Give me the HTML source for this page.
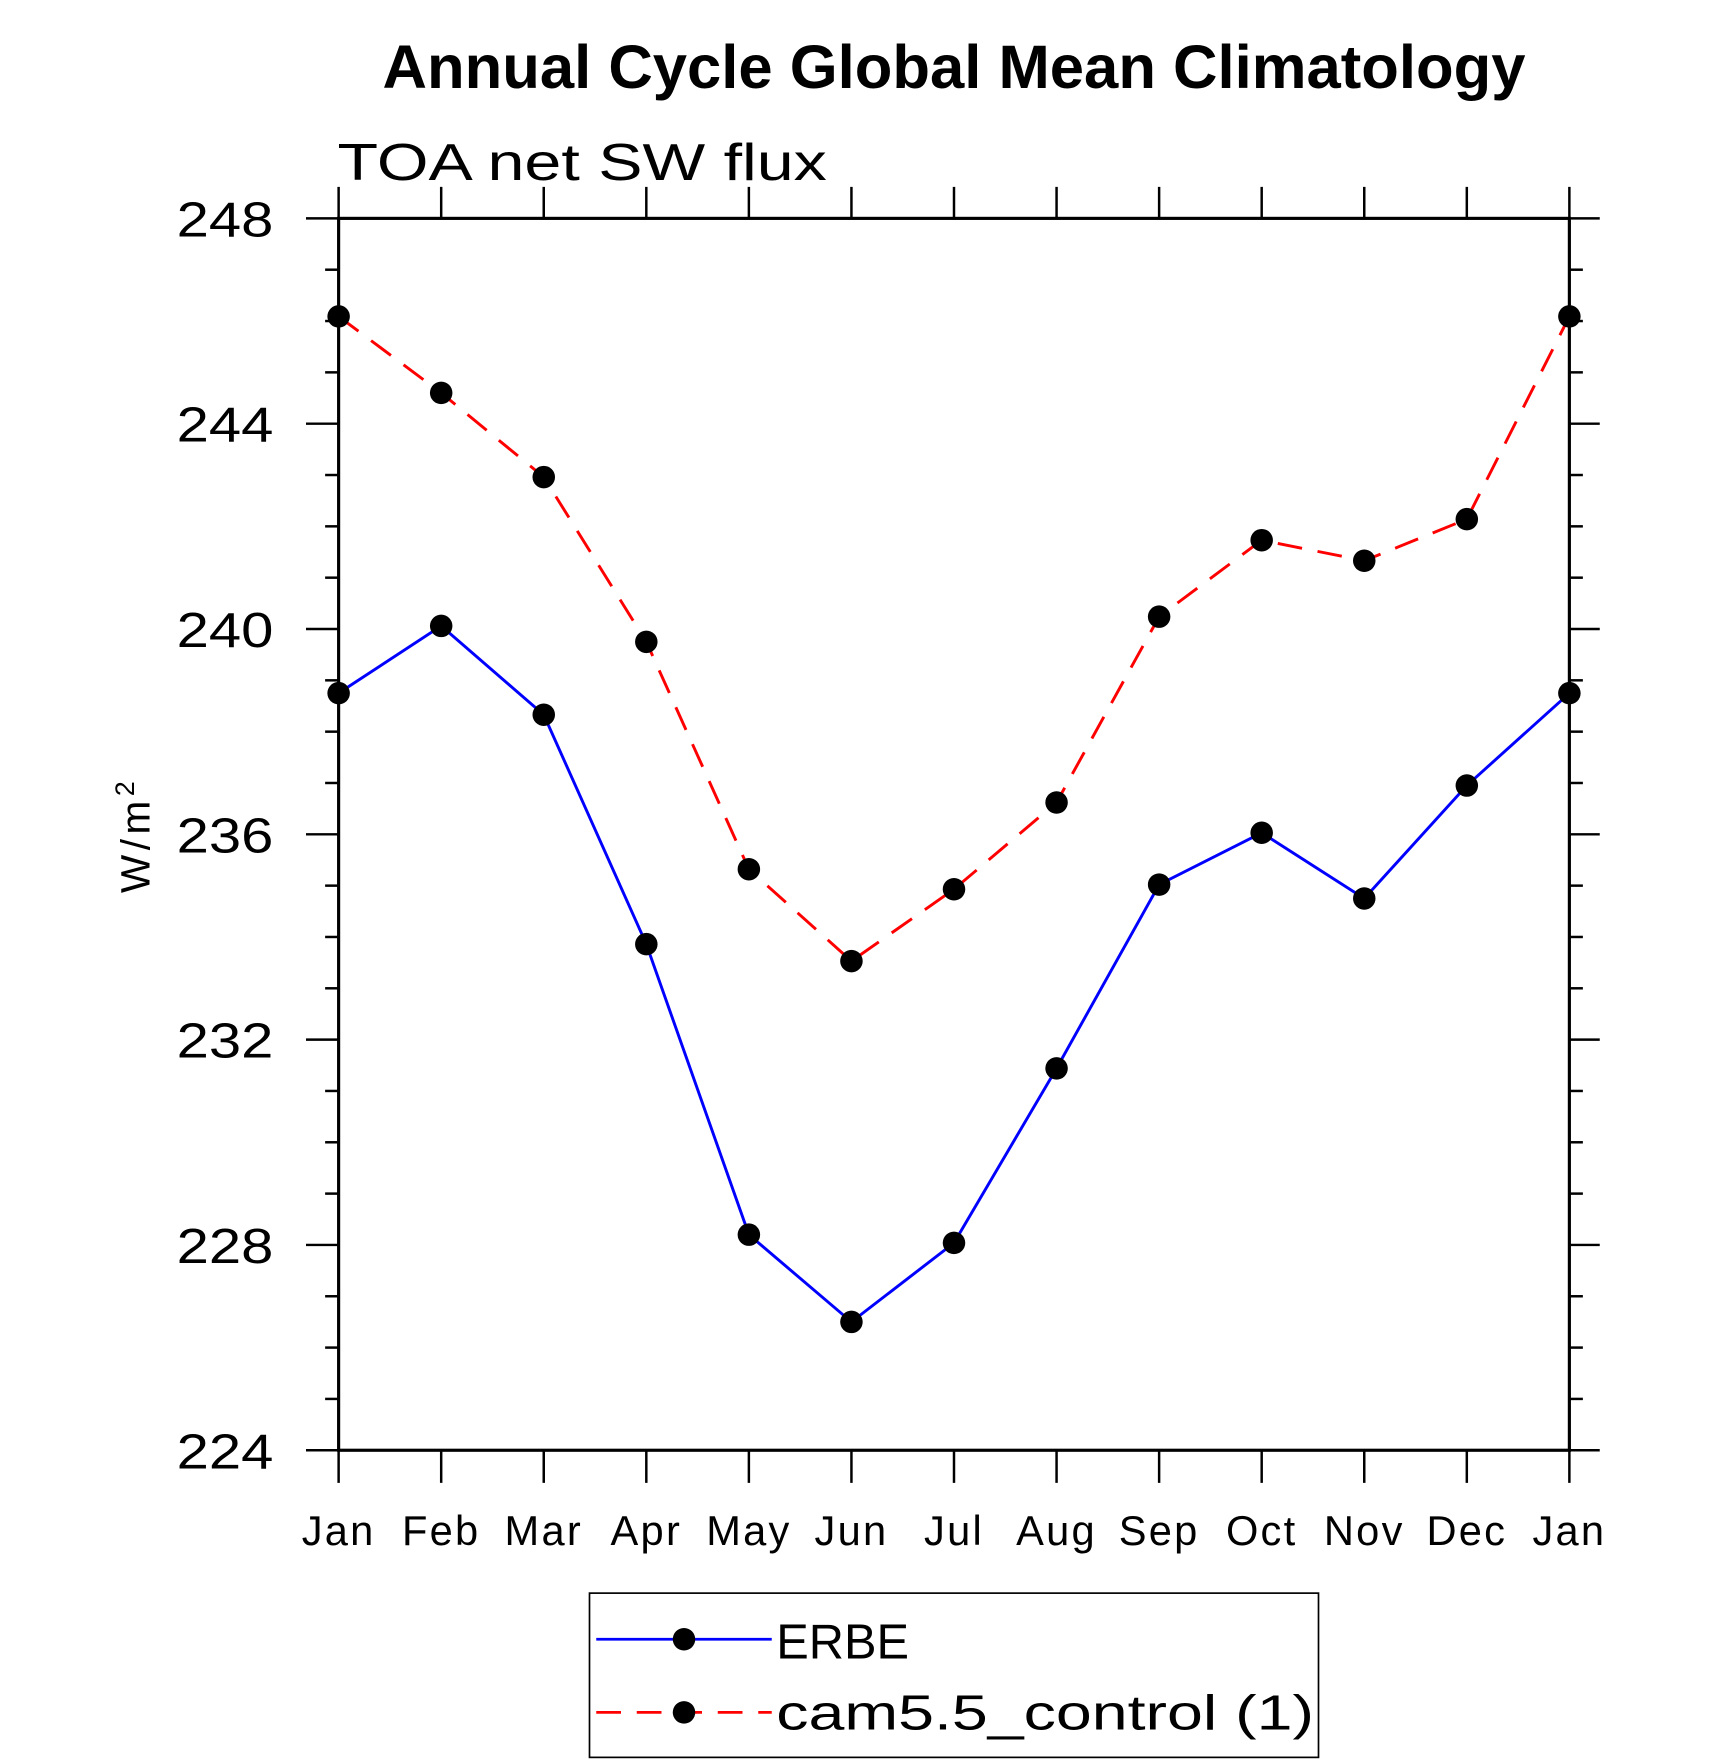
<!DOCTYPE html>
<html><head><meta charset="utf-8"><style>html,body{margin:0;padding:0;background:#fff}svg{display:block}</style></head>
<body>
<svg id="chart" width="1710" height="1762" viewBox="0 0 1520 1566" xmlns="http://www.w3.org/2000/svg" font-family="Liberation Sans, sans-serif">
<rect width="1520" height="1566" fill="#fff"/>
<text x="340" y="78" font-size="54" font-weight="bold" textLength="1016" lengthAdjust="spacingAndGlyphs">Annual Cycle Global Mean Climatology</text>
<text x="300" y="160" font-size="46" font-weight="300" textLength="435" lengthAdjust="spacingAndGlyphs">TOA net SW flux</text>
<text transform="translate(133,742) rotate(-90)" text-anchor="middle" font-size="36" letter-spacing="4">W/m<tspan font-size="24" dy="-14">2</tspan></text>
<g id="axes"></g>
<g id="series"></g>
<g>
<rect x="524" y="1416" width="648" height="146" fill="none" stroke="#000" stroke-width="1.5"/>
<line x1="530" y1="1457" x2="686" y2="1457" stroke="#0000ff" stroke-width="2.5"/>
<circle cx="608" cy="1457" r="10"/>
<text x="690" y="1474" font-size="44" font-weight="300" textLength="118" lengthAdjust="spacingAndGlyphs">ERBE</text>
<line x1="530" y1="1522" x2="686" y2="1522" stroke="#ff0000" stroke-width="2.5" stroke-dasharray="22,14"/>
<circle cx="608" cy="1522" r="10"/>
<text x="690" y="1537" font-size="44" font-weight="300" textLength="478" lengthAdjust="spacingAndGlyphs">cam5.5_control (1)</text>
</g>
</svg>
<script>
const months = ["Jan","Feb","Mar","Apr","May","Jun","Jul","Aug","Sep","Oct","Nov","Dec","Jan"];
const yTicks = [224,228,232,236,240,244,248];
const erbe = [238.75,240.06,238.33,233.86,228.2,226.5,228.04,231.44,235.02,236.03,234.75,236.95,238.75];
const cam = [246.09,244.6,242.96,239.75,235.32,233.53,234.93,236.62,240.24,241.73,241.33,242.14,246.09];
const X0=301,X1=1395,Y0=194,Y1=1289,YMIN=224,YMAX=248;
const NS="http://www.w3.org/2000/svg";
function xs(i){return X0+(X1-X0)*i/(months.length-1);}
function ys(v){return Y1-(v-YMIN)/(YMAX-YMIN)*(Y1-Y0);}
function mk(tag,attrs,parent){const e=document.createElementNS(NS,tag);for(const k in attrs)e.setAttribute(k,attrs[k]);parent.appendChild(e);return e;}
const ax=document.getElementById('axes');
const frame=mk('rect',{x:X0,y:Y0,width:X1-X0,height:Y1-Y0,fill:'none',stroke:'#000','stroke-width':2.8},ax);


for(let v=YMIN;v<=YMAX;v++){
  const major=yTicks.includes(v);const len=major?29:12;const y=ys(v);
  const t1=mk('line',{x1:X0-len,y1:y,x2:X0,y2:y,stroke:'#000','stroke-width':2.2},ax);
  
  
  const t2=mk('line',{x1:X1,y1:y,x2:X1+(major?27:12),y2:y,stroke:'#000','stroke-width':2.2},ax);
  
  
  if(major){
    const tx=mk('text',{x:157,y:y+16,'font-size':44,'font-weight':300,textLength:86,lengthAdjust:'spacingAndGlyphs'},ax);
    tx.textContent=v;
    
    
  }
}
months.forEach((m,i)=>{
  const x=xs(i);
  const b=mk('line',{x1:x,y1:Y1,x2:x,y2:Y1+29,stroke:'#000','stroke-width':2.2},ax);
  
  
  const t=mk('line',{x1:x,y1:Y0-28,x2:x,y2:Y0,stroke:'#000','stroke-width':2.2},ax);
  
  
  const tx=mk('text',{x:x,y:1373,'text-anchor':'middle','font-size':37,'font-weight':300,'letter-spacing':2},ax);
  tx.textContent=m;
  
  
});
const sg=document.getElementById('series');
function drawSeries(vals,color,dash,name){
  const pts=vals.map((v,i)=>xs(i)+','+ys(v)).join(' ');
  const attrs={points:pts,fill:'none',stroke:color,'stroke-width':2.6};
  if(dash)attrs['stroke-dasharray']=dash;
  const pl=mk('polyline',attrs,sg);
  
  
  vals.forEach((v,i)=>{
    const c=mk('circle',{cx:xs(i),cy:ys(v),r:10,fill:'#000'},sg);
    
    
  });
}
drawSeries(erbe,'#0000ff',null,'erbe');
drawSeries(cam,'#ff0000','22,14','cam');
</script>
</body></html>
